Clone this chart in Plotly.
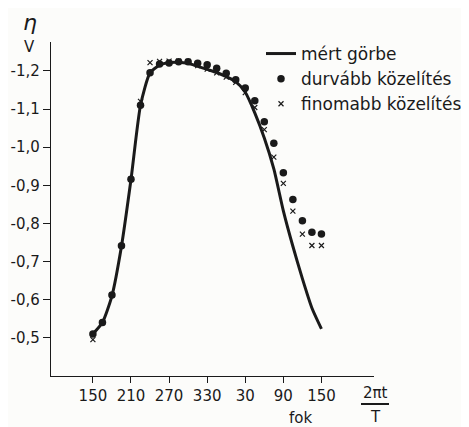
import plotly.graph_objects as go

# phase angle (degrees, continuous) and tick labels
tick_vals = [150, 210, 270, 330, 390, 450, 510]
tick_text = ["150", "210", "270", "330", "30", "90", "150"]
y_tick_vals = [-1.2, -1.1, -1.0, -0.9, -0.8, -0.7, -0.6, -0.5]
y_tick_text = ["-1,2", "-1,1", "-1,0", "-0,9", "-0,8", "-0,7", "-0,6", "-0,5"]

angle = [150, 165, 180, 195, 210, 225, 240, 255, 270, 285, 300, 315, 330,
         345, 360, 375, 390, 405, 420, 435, 450, 465, 480, 495, 510]

# mért görbe (measured curve)
measured = [-0.51, -0.54, -0.61, -0.74, -0.915, -1.11, -1.195, -1.215, -1.222,
            -1.223, -1.22, -1.212, -1.204, -1.196, -1.185, -1.172, -1.144,
            -1.09, -1.024, -0.943, -0.833, -0.74, -0.655, -0.578, -0.523]

# durvább közelítés (coarse approximation)
coarse = [-0.51, -0.54, -0.612, -0.741, -0.916, -1.11, -1.195, -1.218, -1.221,
          -1.224, -1.224, -1.22, -1.216, -1.207, -1.194, -1.177, -1.155,
          -1.122, -1.067, -1.01, -0.933, -0.863, -0.807, -0.777, -0.772]

# finomabb közelítés (finer approximation)
fine = [-0.495, -0.54, -0.612, -0.741, -0.916, -1.12, -1.222, -1.225, -1.226,
        -1.226, -1.225, -1.214, -1.205, -1.195, -1.184, -1.17, -1.143,
        -1.104, -1.046, -0.974, -0.905, -0.832, -0.772, -0.742, -0.742]

INK = "#1a1a1a"
FONT = "DejaVu Sans"

fig = go.Figure()
fig.add_trace(go.Scatter(x=angle, y=measured, mode="lines", name="mért görbe",
                         line=dict(color=INK, width=3, shape="spline", smoothing=0.6)))
fig.add_trace(go.Scatter(x=angle, y=coarse, mode="markers", name="durvább közelítés",
                         marker=dict(color=INK, size=7.5, symbol="circle")))
fig.add_trace(go.Scatter(x=angle, y=fine, mode="markers", name="finomabb közelítés",
                         marker=dict(color=INK, size=5, symbol="x-thin",
                                     line=dict(color=INK, width=1.2))))

OFF = 8  # page body margin
W, H = 469 - OFF, 427 - OFF
# plot area in page pixels
L, R, T, B = 51, 374, 42, 376


def px(x):
    return (x - L) / (R - L)


def py(y):
    return (B - y) / (B - T)


def ann(text, x, y, size=15, **kw):
    return dict(text=text, x=px(x), y=py(y), xref="paper", yref="paper",
                xanchor="center", yanchor="middle", showarrow=False,
                font=dict(size=size, family=FONT, color=INK), **kw)


fig.update_layout(
    width=W, height=H,
    margin=dict(l=L - OFF, r=469 - R, t=T - OFF, b=427 - B, autoexpand=False),
    paper_bgcolor="#fcfcfa", plot_bgcolor="#fcfcfa",
    font=dict(family=FONT, color=INK, size=14),
    showlegend=True,
    legend=dict(x=px(261), y=py(36), xanchor="left", yanchor="top",
                bgcolor="rgba(0,0,0,0)", font=dict(size=17, family=FONT, color=INK),
                tracegroupgap=0, itemwidth=30),
    xaxis=dict(range=[84, 592.8], tickvals=tick_vals, ticktext=tick_text,
               showgrid=False, zeroline=False, showline=True, linecolor=INK,
               linewidth=1.3, ticks="outside", ticklen=6, tickcolor=INK,
               tickfont=dict(size=15, family=FONT)),
    yaxis=dict(range=[-0.3995, -1.276], tickvals=y_tick_vals, ticktext=y_tick_text,
               showgrid=False, zeroline=False, showline=True, linecolor=INK,
               linewidth=1.3, ticks="outside", ticklen=7, tickcolor=INK,
               tickfont=dict(size=15, family=FONT)),
    annotations=[
        ann("<i>η</i>", 30, 23, size=22),
        ann("V", 29, 47),
        ann("fok", 300, 418),
        ann("2πt", 375, 393),
        ann("T", 375, 417),
    ],
    shapes=[
        dict(type="line", xref="paper", yref="paper", x0=px(361), x1=px(389),
             y0=py(404), y1=py(404), line=dict(color=INK, width=2)),
    ],
)

fig.write_html("out.html")
